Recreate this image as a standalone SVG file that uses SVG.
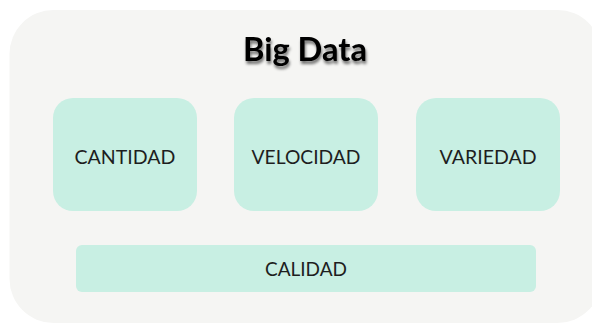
<svg xmlns="http://www.w3.org/2000/svg" width="592" height="323" viewBox="0 0 592 323">
<defs>
<filter id="sh" x="-20%" y="-30%" width="140%" height="170%">
<feGaussianBlur in="SourceAlpha" stdDeviation="1.5"/>
<feOffset dx="1" dy="2.5" result="b"/>
<feComponentTransfer><feFuncA type="linear" slope="0.55"/></feComponentTransfer>
<feMerge><feMergeNode/><feMergeNode in="SourceGraphic"/></feMerge>
</filter>
</defs>
<style>
.box{fill:#c8efe3}
.lbl{font-family:"Lato","Liberation Sans",sans-serif;font-size:19px;fill:#1e1e1e;text-anchor:middle}
.title{font-family:"Lato","Open Sans",sans-serif;font-weight:bold;font-size:32px;fill:#000;text-anchor:middle}
</style>
<rect x="9.5" y="10" width="592" height="313" rx="44" fill="#f5f5f3"/>
<g id="title"><text class="title" x="305" y="61" filter="url(#sh)" textLength="124" lengthAdjust="spacingAndGlyphs">Big Data</text></g>
<g id="cantidad"><rect class="box" x="53" y="98" width="144" height="113" rx="20"/><text class="lbl" x="125" y="164" textLength="101" lengthAdjust="spacingAndGlyphs">CANTIDAD</text></g>
<g id="velocidad"><rect class="box" x="234" y="98" width="144" height="113" rx="20"/><text class="lbl" x="306" y="164" textLength="109" lengthAdjust="spacingAndGlyphs">VELOCIDAD</text></g>
<g id="variedad"><rect class="box" x="416" y="98" width="144" height="113" rx="20"/><text class="lbl" x="488" y="164" textLength="97" lengthAdjust="spacingAndGlyphs">VARIEDAD</text></g>
<g id="calidad"><rect class="box" x="76" y="245" width="460" height="47" rx="6"/><text class="lbl" x="306" y="276" textLength="82" lengthAdjust="spacingAndGlyphs">CALIDAD</text></g>
<g id="connectors"/>
</svg>
